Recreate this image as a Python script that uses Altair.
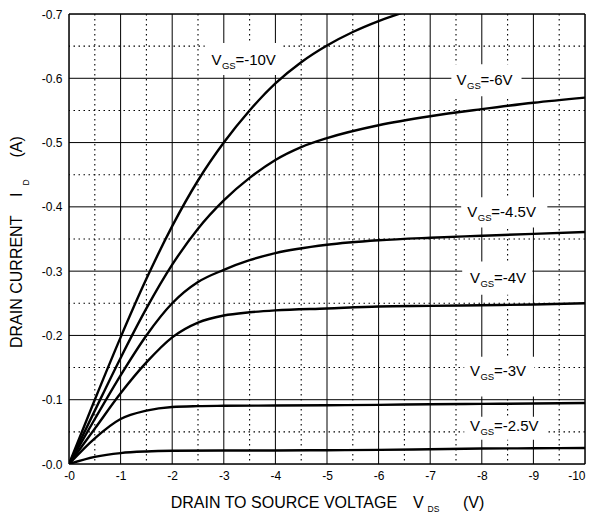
import altair as alt
import pandas as pd

FONT = "Liberation Sans"

# ---- curve data (V_DS in volts, I_D in amps) ----
curve_labels = ["-10V", "-6V", "-4.5V", "-4V", "-3V", "-2.5V"]

v_10 = [0, -0.5, -1, -1.5, -2, -2.5, -3, -3.5, -4, -4.5, -5, -5.5, -6, -6.5]
i_10 = [0, -0.1, -0.197, -0.288, -0.37, -0.441, -0.5, -0.55, -0.592, -0.625, -0.651, -0.672, -0.689, -0.703]

v_6 = [0, -0.5, -1, -1.5, -2, -2.5, -3, -3.5, -4, -4.5, -5, -6, -7, -8, -9, -10]
i_6 = [0, -0.083, -0.165, -0.242, -0.31, -0.366, -0.41, -0.445, -0.473, -0.493, -0.507, -0.527, -0.541, -0.552, -0.562, -0.57]

v_45 = [0, -0.5, -1, -1.5, -2, -2.5, -3, -3.5, -4, -5, -6, -7, -8, -9, -10]
i_45 = [0, -0.07, -0.138, -0.2, -0.25, -0.283, -0.302, -0.317, -0.328, -0.341, -0.348, -0.352, -0.355, -0.358, -0.361]

v_4 = [0, -0.5, -1, -1.5, -2, -2.5, -3, -3.5, -4, -5, -6, -7, -8, -9, -10]
i_4 = [0, -0.055, -0.11, -0.158, -0.197, -0.22, -0.231, -0.236, -0.239, -0.242, -0.245, -0.246, -0.247, -0.248, -0.25]

v_3 = [0, -0.5, -1, -1.5, -2, -2.5, -3, -4, -5, -6, -7, -8, -9, -10]
i_3 = [0, -0.04, -0.07, -0.083, -0.0887, -0.09, -0.0905, -0.091, -0.0915, -0.092, -0.093, -0.0935, -0.094, -0.095]

v_25 = [0, -0.5, -1, -1.5, -2, -3, -4, -5, -6, -7, -8, -9, -10]
i_25 = [0, -0.011, -0.017, -0.0195, -0.0205, -0.021, -0.021, -0.0215, -0.022, -0.023, -0.024, -0.0245, -0.025]

curve_v = [v_10, v_6, v_45, v_4, v_3, v_25]
curve_i = [i_10, i_6, i_45, i_4, i_3, i_25]

# ---- axis ticks / grid ----
x_ticks = [0, -1, -2, -3, -4, -5, -6, -7, -8, -9, -10]
y_ticks = [0, -0.1, -0.2, -0.3, -0.4, -0.5, -0.6, -0.7]
x_major = [-1, -2, -3, -4, -5, -6, -7, -8, -9]
x_minor = [-0.5, -1.5, -2.5, -3.5, -4.5, -5.5, -6.5, -7.5, -8.5, -9.5]
y_major = [-0.1, -0.2, -0.3, -0.4, -0.5, -0.6]
y_minor = [-0.05, -0.15, -0.25, -0.35, -0.45, -0.55, -0.65]
x_frame = [0, -10]
y_frame = [0, -0.7]

# ---- curve label annotations (data units) ----
label_v = [-2.76, -7.51, -7.72, -7.77, -7.77, -7.77]
label_i = [-0.629, -0.598, -0.3927, -0.29, -0.144, -0.0585]
box_v1 = [-2.63, -7.41, -7.60, -7.62, -7.66, -7.66]
box_v2 = [-4.14, -8.77, -9.27, -8.98, -9.02, -9.27]
box_i1 = [-0.655, -0.622, -0.415, -0.315, -0.167, -0.0736]
box_i2 = [-0.605, -0.572, -0.368, -0.2633, -0.105, -0.0378]

rows = []
for name, vs, is_ in zip(curve_labels, curve_v, curve_i):
    for v, i in zip(vs, is_):
        rows.append({"VGS": name, "V": v, "I": i})
curves_df = pd.DataFrame(rows)

labels_df = pd.DataFrame({
    "name": curve_labels, "V": label_v, "I": label_i,
    "x1": box_v1, "x2": box_v2, "y1": box_i1, "y2": box_i2,
    "rest": ["=" + n for n in curve_labels],
})

xs = alt.Scale(domain=[0, -10], nice=False, zero=False)
ys = alt.Scale(domain=[0, -0.7], nice=False, zero=False)

x_axis = alt.Axis(
    values=x_ticks, title=None, grid=False, ticks=False, domain=False,
    labelExpr="'-' + format(abs(datum.value), 'd')",
    labelFont=FONT, labelFontSize=12, labelColor="black", labelPadding=6,
    labelAlign={"condition": {"test": "datum.value <= -10", "value": "right"}, "value": "center"},
)
y_axis = alt.Axis(
    values=y_ticks, title=None, grid=False, ticks=False, domain=False,
    labelExpr="'-' + format(abs(datum.value), '.1f')",
    labelFont=FONT, labelFontSize=12, labelColor="black", labelPadding=7,
)

def X(f):
    return alt.X(f, scale=xs, axis=x_axis)

def Y(f):
    return alt.Y(f, scale=ys, axis=y_axis)

def vrules(vals, dash=None, width=1.0):
    kw = {"strokeDash": dash} if dash else {}
    return alt.Chart(pd.DataFrame({"V": vals})).mark_rule(
        color="black", strokeWidth=width, **kw).encode(x=X("V:Q"))

def hrules(vals, dash=None, width=1.0):
    kw = {"strokeDash": dash} if dash else {}
    return alt.Chart(pd.DataFrame({"I": vals})).mark_rule(
        color="black", strokeWidth=width, **kw).encode(y=Y("I:Q"))

dash = [1.5, 3.5]
grid = (vrules(x_minor, dash, 1.1) + hrules(y_minor, dash, 1.1)
        + vrules(x_major) + hrules(y_major))

boxes = alt.Chart(labels_df).mark_rect(fill="white").encode(
    x=X("x1:Q"), x2="x2:Q", y=Y("y1:Q"), y2="y2:Q",
)

frame = vrules(x_frame, None, 1.5) + hrules(y_frame, None, 1.5)

lines = alt.Chart(curves_df).mark_line(
    color="black", strokeWidth=2.4, interpolate="monotone", clip=True
).encode(x=X("V:Q"), y=Y("I:Q"), detail="VGS:N")

base_t = alt.Chart(labels_df).encode(x=X("V:Q"), y=Y("I:Q"))
t_v = base_t.mark_text(text="V", font=FONT, fontSize=15, align="left", baseline="middle", color="black")
t_gs = base_t.mark_text(text="GS", font=FONT, fontSize=9.5, align="left", baseline="middle",
                        dx=10.5, dy=6, color="black")
t_rest = base_t.mark_text(font=FONT, fontSize=15, align="left", baseline="middle",
                          dx=24, color="black").encode(text="rest:N")

one = alt.Data(values=[{}])

def ptext(txt, x, y, size=16, angle=0, align="left"):
    return alt.Chart(one).mark_text(
        text=txt, font=FONT, fontSize=size, angle=angle, align=align,
        baseline="middle", color="black"
    ).encode(x=alt.value(x), y=alt.value(y))

titles = (
    ptext("DRAIN TO SOURCE VOLTAGE", 101.7, 489)
    + ptext("V", 344, 489)
    + ptext("DS", 358.5, 495, size=8.5)
    + ptext("(V)", 394, 489)
    + ptext("DRAIN CURRENT", -52, 334, angle=270)
    + ptext("I", -52, 183, angle=270)
    + ptext("D", -43, 171.5, size=8.5, angle=270)
    + ptext("(A)", -52, 143.5, angle=270)
)

chart = alt.layer(grid, boxes, frame, lines, t_v, t_gs, t_rest, titles).properties(
    width=516, height=450,
    padding={"left": 61, "top": 6, "right": 2, "bottom": 49},
    autosize="none",
).configure_view(stroke=None).configure(background="white")

chart.save("out.html", embed_options={"renderer": "svg", "actions": False})
